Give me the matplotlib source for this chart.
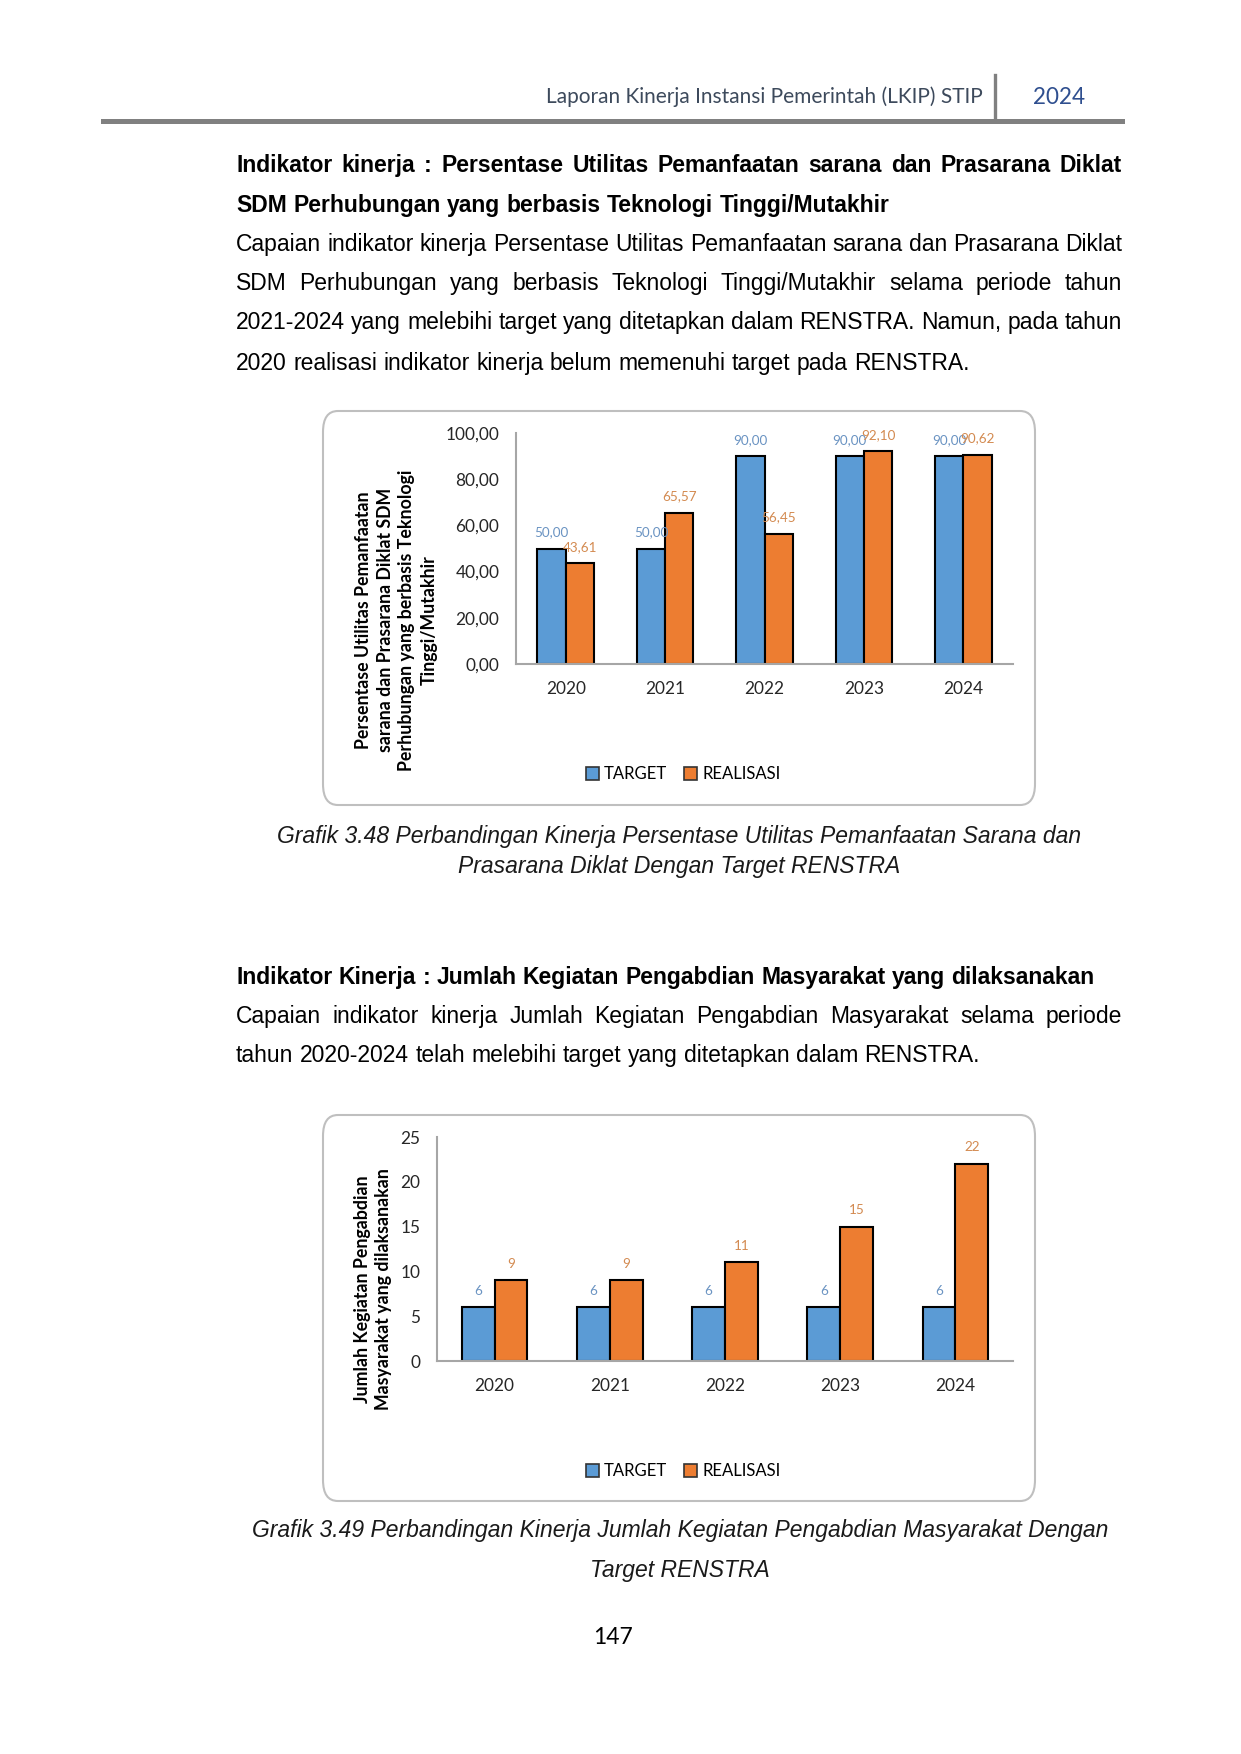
import matplotlib
matplotlib.use("Agg")
import matplotlib.pyplot as plt
from matplotlib.patches import FancyBboxPatch, Patch
from matplotlib.lines import Line2D

W, H, DPI = 1241, 1754, 150

# --- data ---
YEARS = ["2020", "2021", "2022", "2023", "2024"]
UTIL_TARGET = [50.00, 50.00, 90.00, 90.00, 90.00]
UTIL_REAL = [43.61, 65.57, 56.45, 92.10, 90.62]
PKM_TARGET = [6, 6, 6, 6, 6]
PKM_REAL = [9, 9, 11, 15, 22]
UTIL_TICKS = [0, 20, 40, 60, 80, 100]
PKM_TICKS = [0, 5, 10, 15, 20, 25]

BLUE = "#5B9BD5"
ORANGE = "#ED7D31"
BLUE_LBL = "#6A93C2"
ORANGE_LBL = "#D38A50"
AXIS = "#A6A6A6"
BODY = "Liberation Sans"
CHART = "Lato"
FS = 11            # corps du texte

fig = plt.figure(figsize=(W / DPI, H / DPI), dpi=DPI)
fig.patch.set_facecolor("white")
R = fig.canvas.get_renderer()


def fx(x):
    return x / W


def fy(y):
    return 1 - y / H


def line(text, y, x0=236, x1=1122, justify=True, **kw):
    """Ligne de texte, justifiée mot par mot entre x0 et x1 (pixels); y = milieu visuel."""
    kw = dict(dict(fontsize=FS, family=BODY, va="baseline", color="black"), **kw)
    words = text.split()
    objs = [fig.text(0, fy(y + 6), w, **kw) for w in words]
    widths = [t.get_window_extent(R).width for t in objs]
    if justify and len(words) > 1:
        gap = (x1 - x0 - sum(widths)) / (len(words) - 1)
    else:
        t2 = fig.text(0, 0, "a a", **kw)
        t1 = fig.text(0, 0, "aa", **kw)
        gap = t2.get_window_extent(R).width - t1.get_window_extent(R).width
        t2.remove()
        t1.remove()
    x = x0
    for t, w in zip(objs, widths):
        t.set_x(fx(x))
        x += w + gap


# --- en-tête ---
fig.text(fx(983), fy(97), "Laporan Kinerja Instansi Pemerintah (LKIP) STIP", family=CHART,
         fontsize=10, color="#3D4A5C", ha="right", va="center")
fig.text(fx(1059), fy(97), "2024", family=CHART, fontsize=10.8, color="#2F4F8F",
         ha="center", va="center")
fig.add_artist(Line2D([fx(103), fx(1122)], [fy(121), fy(121)], color="#808080", lw=2.4))
fig.add_artist(Line2D([fx(995), fx(995)], [fy(75), fy(121)], color="#808080", lw=1.6))

# --- texte 1 ---
line("Indikator kinerja : Persentase Utilitas Pemanfaatan sarana dan Prasarana Diklat", 166,
     weight="bold")
line("SDM Perhubungan yang berbasis Teknologi Tinggi/Mutakhir", 206, justify=False, weight="bold")
line("Capaian indikator kinerja Persentase Utilitas Pemanfaatan sarana dan Prasarana Diklat", 245)
line("SDM Perhubungan yang berbasis Teknologi Tinggi/Mutakhir selama periode tahun", 284)
line("2021-2024 yang melebihi target yang ditetapkan dalam RENSTRA. Namun, pada tahun", 323)
line("2020 realisasi indikator kinerja belum memenuhi target pada RENSTRA.", 364, justify=False)

# --- texte 2 ---
line("Indikator Kinerja : Jumlah Kegiatan Pengabdian Masyarakat yang dilaksanakan", 978,
     justify=False, weight="bold")
line("Capaian indikator kinerja Jumlah Kegiatan Pengabdian Masyarakat selama periode", 1017)
line("tahun 2020-2024 telah melebihi target yang ditetapkan dalam RENSTRA.", 1056, justify=False)


def chart_box(x0, y0, x1, y1):
    box = FancyBboxPatch((fx(x0), fy(y1)), fx(x1) - fx(x0), fy(y0) - fy(y1),
                         boxstyle="round,pad=0,rounding_size=0.012", transform=fig.transFigure,
                         facecolor="white", edgecolor="#BFBFBF", lw=1.0, zorder=0)
    fig.add_artist(box)


def bar_chart(rect, target, real, ticks, fmt, ylabel, lab_xy, legend_xy):
    ax = fig.add_axes(rect)
    x = range(len(YEARS))
    w = 0.285
    b1 = ax.bar([i - w / 2 for i in x], target, w, color=BLUE, edgecolor="black", lw=1.0)
    b2 = ax.bar([i + w / 2 for i in x], real, w, color=ORANGE, edgecolor="black", lw=1.0)
    ax.bar_label(b1, labels=[fmt(v) for v in target], padding=5, color=BLUE_LBL,
                 fontsize=6.5, family=CHART)
    ax.bar_label(b2, labels=[fmt(v) for v in real], padding=5, color=ORANGE_LBL,
                 fontsize=6.5, family=CHART)
    ax.set_xlim(-0.5, len(YEARS) - 0.5)
    ax.set_ylim(ticks[0], ticks[-1])
    ax.set_yticks(ticks)
    ax.set_yticklabels([fmt(t) for t in ticks])
    ax.set_xticks(list(x))
    ax.set_xticklabels(YEARS)
    ax.tick_params(length=0, labelsize=8.3, labelcolor="#262626", pad=8)
    for t in ax.get_xticklabels() + ax.get_yticklabels():
        t.set_family(CHART)
    for s in ("top", "right"):
        ax.spines[s].set_visible(False)
    for s in ("bottom", "left"):
        ax.spines[s].set_color(AXIS)
        ax.spines[s].set_linewidth(1.0)
    fig.text(fx(lab_xy[0]), fy(lab_xy[1]), ylabel, rotation=90, ha="center", va="center",
             multialignment="center", family=CHART, weight="bold", fontsize=8.5,
             linespacing=1.35)
    fig.legend(handles=[Patch(facecolor=BLUE, edgecolor="#333333", lw=0.8, label="TARGET"),
                        Patch(facecolor=ORANGE, edgecolor="#333333", lw=0.8, label="REALISASI")],
               loc="center", bbox_to_anchor=(fx(legend_xy[0]), fy(legend_xy[1])), ncol=2,
               frameon=False, handlelength=0.8, handleheight=0.8, handletextpad=0.3,
               columnspacing=1.0, prop={"family": CHART, "size": 8})
    return ax


# --- grafik 3.48 ---
chart_box(323, 411, 1035, 805)
bar_chart([fx(516), fy(664), fx(1013) - fx(516), fy(433) - fy(664)],
          UTIL_TARGET, UTIL_REAL, UTIL_TICKS, lambda v: f"{v:.2f}".replace(".", ","),
          "Persentase Utilitas Pemanfaatan\nsarana dan Prasarana Diklat SDM\n"
          "Perhubungan yang berbasis Teknologi\nTinggi/Mutakhir",
          (396, 620), (683, 774))
cap = dict(family=BODY, style="italic", fontsize=FS, ha="center", va="center", color="#1a1a1a")
fig.text(fx(679), fy(836), "Grafik 3.48 Perbandingan Kinerja Persentase Utilitas Pemanfaatan Sarana dan", **cap)
fig.text(fx(679), fy(866), "Prasarana Diklat Dengan Target RENSTRA", **cap)

# --- grafik 3.49 ---
chart_box(323, 1115, 1035, 1501)
bar_chart([fx(437), fy(1361), fx(1013) - fx(437), fy(1137) - fy(1361)],
          PKM_TARGET, PKM_REAL, PKM_TICKS, lambda v: f"{v:g}",
          "Jumlah Kegiatan Pengabdian\nMasyarakat yang dilaksanakan",
          (373, 1289), (683, 1471))
fig.text(fx(680), fy(1530), "Grafik 3.49 Perbandingan Kinerja Jumlah Kegiatan Pengabdian Masyarakat Dengan", **cap)
fig.text(fx(680), fy(1570), "Target RENSTRA", **cap)

fig.text(fx(613), fy(1638), "147", family=CHART, fontsize=11, ha="center", va="center")

fig.savefig("out.png", dpi=DPI, facecolor="white")
